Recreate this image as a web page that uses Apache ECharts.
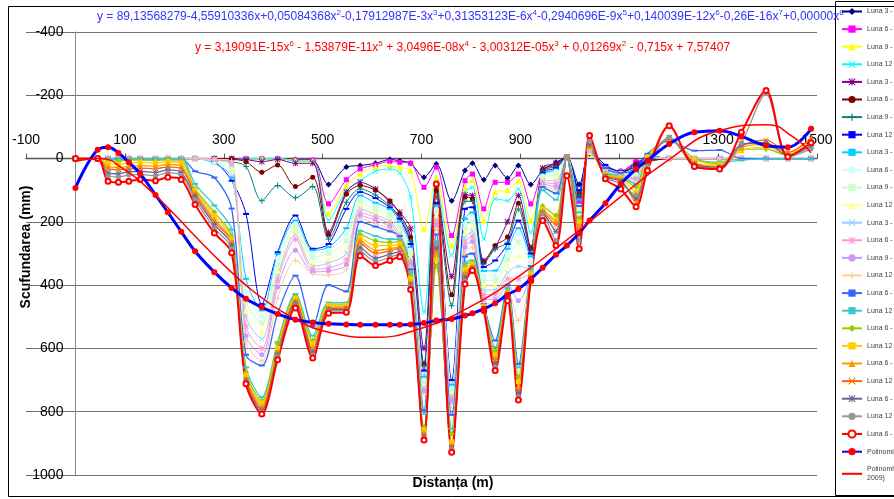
<!DOCTYPE html>
<html><head><meta charset="utf-8">
<script src="https://cdn.jsdelivr.net/npm/echarts@6/dist/echarts.min.js"></script>
<style>html,body{margin:0;padding:0;background:#fff}#c{width:894px;height:499px}</style>
</head><body><div id="c"></div>
<script>
// ---------- DATA ----------
const stations = [0,45,66,87,108,131,162,187,214,242,281,316,345,377,409,445,480,512,548,576,607,636,656,678,705,730,761,788,803,826,849,874,896,921,945,972,994,1019,1040,1072,1103,1134,1157,1201,1252,1303,1347,1397,1441,1488];

const xTicks = [-100,100,300,500,700,900,1100,1300,1500];
const yTicks = [-400,-200,0,200,400,600,800,1000];

const seriesNames = ['Luna 3 - 2001','Luna 6 - 2001','Luna 9 - 2001','Luna 12 - 2001','Luna 3 - 2002','Luna 6 - 2002','Luna 9 - 2002','Luna 12 - 2002','Luna 3 - 2003','Luna 6 - 2003','Luna 9 - 2003','Luna 12 - 2003','Luna 3 - 2004','Luna 6 - 2004','Luna 9 - 2004','Luna 12 - 2004','Luna 6 - 2005','Luna 12 - 2005','Luna 6 - 2006','Luna 12 - 2006','Luna 6 - 2007','Luna 12 - 2007','Luna 6 - 2008','Luna 12 - 2008','Luna 6 - 2009'];
const polyBlueName = 'Polinomială (profil mediu)';
const trendName = 'Polinomială (Luna 6 -\n2009)';

const s01 = [0,0,0,0,0,0,0,0,0,0,0,0,0,0,0,3,5, 82,27,22,15,3,7,15,59,17, 133,38,15,67,22,62,22,82,38,12,-4,82,-15, 25,40,12,5,0,0,0,0,0,0,0];
const s02 = [0,0,0,0,0,0,0,0,0,0,0,0,0,0,0,5,5, 143,67,33,20,9,12,15,91,27, 243,70,49,159,75,75,49,143,43,20,-5,138,-20, 30,40,10,5,0,0,0,0,0,0,0];
const s03 = [0,0,0,0,0,0,0,0,0,0,0,0,0,0,0,5,8, 175,85,48,25,22,28,38,222,60, 275,91,68,196,106,100,70,196,50,30,-5,160,-20, 30,42,20,0,0,0,0,0,0,0,0];
const s04 = [0,0,0,0,0,0,0,0,0,0,0,0,0,2,0,8,10, 194,101,70,40,33,45,122,486,75, 306,106,91,254,127,133,96,233,55,35,-5,170,-20, 32,44,25,-5,0,0,0,0,0,0,0];
const s05 = [0,0,0,0,0,0,0,0,0,0,0,0,3,10,3,15,15, 233,106,75,96,138,170,222,600,90, 373,115,117,322,280,200,117,280,30,15,-5,120,-25, 35,45,15,5,0,0,0,0,0,0,0];
const s06 = [0,0,0,0,0,0,0,0,0,0,0,2,10,43,20,88,59, 241,113,85,100,133,175,249,649,102, 430,122,128,328,275,248,141,285,35,20,-5,110,-25, 38,46,20,10,0,0,0,0,0,0,0];
const s07 = [0,0,0,0,0,0,0,0,0,0,3,10,25,133,85,124,88, 254,138,96,115,149,185,260,655,120, 465,135,135,333,286,264,159,290,40,25,-5,115,-25, 38,48,30,0,0,0,0,0,0,0,0];
const s08 = [0,0,0,0,0,0,0,0,0,0,10,70,175,460,296,180,285, 270,159,106,125,155,190,270,670,140, 700,159,154,343,322,270,196,300,45,30,-5,100,-25, 20,40,25,-10,0,0,0,0,0,0,0];
const s09 = [0,0,0,0,0,0,0,0,0,0,15,60,380,480,301,196,290, 280,220,117,140,160,200,280,690,150, 715,190,170,355,354,285,220,310,50,35,-5,130,-25, 35,44,45,-10,0,0,0,0,0,0,0];
const s10 = [0,0,0,0,0,0,0,0,0,0,10,45,420,500,315,206,300, 290,240,128,150,170,210,290,700,160, 725,205,185,370,370,300,240,320,55,40,-5,150,-25, 38,46,50,-5,0,0,0,0,0,0,0];
const s11 = [0,0,0,0,0,0,0,0,0,0,6,35,450,520,335,216,312, 300,260,138,160,180,220,300,710,170, 735,220,200,385,385,320,264,330,60,50,-5,160,-25, 40,48,55,-5,0,0,0,0,0,0,0];
const s12 = [0,0,0,0,0,0,0,0,0,0,5,28,480,545,355,225,330, 320,285,148,170,190,230,310,718,180, 742,235,215,400,400,340,307,340,65,60,-5,170,-25, 40,50,60,-5,0,0,0,0,0,0,0];
const s13 = [0,0,0,0,0,0,0,0,0,0,4,22,500,570,370,240,340, 330,300,158,178,198,238,318,725,190, 750,250,230,415,415,360,340,350,70,70,-5,190,-25, 42,50,62,-5,0,0,0,0,0,0,0];
const s14 = [0,0,0,0,0,0,0,0,0,0,3,16,530,600,385,255,350, 345,320,170,186,206,246,326,730,200, 756,265,245,430,430,380,380,355,75,80,-5,220,-25, 42,52,65,-5,0,0,0,0,0,0,0];
const s15 = [0,0,0,0,0,0,0,0,0,0,2,12,560,620,406,290,358, 355,335,180,195,215,255,335,735,210, 765,280,262,445,445,400,449,360,80,90,-5,280,-25, 44,52,65,-5,0,0,0,0,0,0,0];
const s16 = [0,0,0,0,0,0,0,0,0,0,2,8,580,640,442,322,364, 368,350,190,205,225,262,345,745,220, 780,300,280,455,459,420,512,365,85,100,-5,230,-25, 44,54,70,-5,0,0,0,0,0,0,0];
const s17 = [0,0,0,0,0,0,0,0,0,40,60,158,620,654,490,370,530, 400,420,200,215,230,245,350,796,240, 810,310,300,460,575,400,649,340,90,110,-5,150,-30, 30,45,40,-15,-55,-25,-27,0,0,0,0];
const s18 = [0,0,0,0,0,0,0,0,0,80,148,224,660,754,580,428,560, 455,455,228,245,255,255,360,806,260, 854,330,322,462,596,410,660,350,100,130,-5,170,-30, 45,55,80,-10,-60,0,12,5,0,0,0];
const s19 = [0,0,5,8,5,5,6,4,6,96,170,246,675,765,585,435,575, 460,460,240,260,265,262,370,849,340, 870,340,328,465,610,420,690,360,150,180,-5,190,-35, 48,58,90,-5,-60,2,15,-30,-30,-10,-40];
const s20 = [0,0,15,18,15,12,14,10,14,100,181,253,685,772,600,442,585, 465,464,250,275,275,270,380,858,320, 895,350,334,468,620,425,705,365,160,194,-5,200,-35, 50,60,107,-5,-62,3,20,-25,-36,-15,-50];
const s21 = [0,0,25,28,25,22,24,18,24,106,192,260,692,780,608,448,598, 470,468,258,290,285,278,388,866,300, 905,360,340,470,630,430,720,370,165,200,-5,210,-40, 52,65,139,10,-64,12,25,-35,-45,-19,-60];
const s22 = [0,0,32,35,32,30,32,26,32,112,200,265,698,788,614,452,605, 474,472,266,300,292,282,394,872,290, 910,368,344,473,638,435,730,374,170,210,-5,220,-40, 54,68,130,15,-65,15,27,-40,-59,-19,-65];
const s23 = [0,0,45,48,42,40,44,36,44,120,208,274,703,795,620,458,612, 478,476,280,315,302,295,400,878,280, 915,376,348,475,648,440,742,378,172,230,-5,240,-45, 56,72,125,20,-66,18,28,-45,-50,-10,-40];
const s24 = [0,0,55,58,52,50,54,45,52,130,220,285,708,800,626,464,620, 482,480,292,325,312,302,406,884,270, 920,386,351,478,658,445,752,382,175,259,-5,260,-54, 58,80,115,25,-67,22,30,-50,-205,-5,-30];
const s25 = [0,0,72,75,72,66,70,59,66,145,235,298,712,807,636,472,630, 489,486,307,338,322,310,414,889,80, 928,396,354,480,670,449,763,386,196,275,54,285,-73, 64,96,152,38,-104,25,33,-83,-215,-6,-50];

const polyBlue = [93,-28,-36,-18,12,48,115,170,231,293,359,409,443,470,491,509,518,522,524,525,525,525,525,524,520,512,507,496,489,475,457,430,412,381,345,304,275,235,196,141,80,33,6,-46,-83,-88,-70,-41,-36,-94];

const trendX = [0,50,100,150,200,250,300,350,400,450,500,600,700,800,900,1000,1100,1200,1300,1400,1450,1488];
const trendY = [8,0,36,99,176,258,336,407,466,512,544,565,536,467,368,250,124,4,-87,-107,-70,-18];

const eqBlueParts = ['y = 89,13568279-4,55910336x+0,05084368x','2','-0,17912987E-3x','3','+0,31353123E-6x','4','-0,2940696E-9x','5','+0,140039E-12x','6','-0,26E-16x','7','+0,00000x','8'];
const eqRedParts = ['y = 3,19091E-15x','6',' - 1,53879E-11x','5',' + 3,0496E-08x','4',' - 3,00312E-05x','3',' + 0,01269x','2',' - 0,715x + 7,57407'];

// ---------- STYLE ----------
const FONT = '"Liberation Sans", Arial, sans-serif';
const SX = 'path://M1,0L5,4L9,0L10,1L6,5L10,9L9,10L5,6L1,10L0,9L4,5L0,1Z';
const SPLUS = 'path://M4.2,0H5.8V4.2H10V5.8H5.8V10H4.2V5.8H0V4.2H4.2Z';
const SSTAR = 'path://M1,0L5,4L9,0L10,1L6,5L10,9L9,10L5,6L1,10L0,9L4,5L0,1Z M4.3,0H5.7V10H4.3Z M0,4.3H10V5.7H0Z';
const styles = [
 ['#000080','diamond',6],['#FF00FF','rect',5],['#FFFF00','triangle',6],['#00FFFF',SX,5],
 ['#800080',SSTAR,6],['#800000','circle',5],['#008080',SPLUS,6],['#0000FF','rect',[6,2]],
 ['#00CCFF','rect',[6,2]],['#CCFFFF','circle',5],['#CCFFCC','rect',5],['#FFFF99','triangle',6],
 ['#99CCFF',SX,5],['#FF99CC',SSTAR,6],['#CC99FF','circle',5],['#FFCC99',SPLUS,6],
 ['#3366FF','rect',[6,2]],['#33CCCC','rect',[6,2]],['#99CC00','diamond',6],['#FFCC00','rect',5],
 ['#FF9900','triangle',6],['#FF6600',SX,5],['#666699',SSTAR,6],['#969696','circle',5],
 ['#FF0000','emptyCircle',5]
];
const valueSets = [s01,s02,s03,s04,s05,s06,s07,s08,s09,s10,s11,s12,s13,s14,s15,s16,s17,s18,s19,s20,s21,s22,s23,s24,s25];

const series = valueSets.map((vals, k) => {
  const [c, sym, size] = styles[k];
  const last = k === valueSets.length - 1;
  return {
    name: seriesNames[k], type: 'line', smooth: 0.3,
    data: stations.map((x, i) => [x, vals[i]]),
    symbol: sym, symbolSize: size, showAllSymbol: true,
    lineStyle: { color: c, width: last ? 2 : (k >= 16 ? 1.3 : 1) },
    itemStyle: { color: c, borderColor: c, borderWidth: last ? 1 : 0 },
    emphasis: { disabled: true }, z: 2
  };
});
series.push({
  name: polyBlueName, type: 'line', smooth: 0.4,
  data: stations.map((x, i) => [x, polyBlue[i]]),
  symbol: 'circle', symbolSize: 6, showAllSymbol: true,
  lineStyle: { color: '#0000FF', width: 3 },
  itemStyle: { color: '#FF0000' }, emphasis: { disabled: true }, z: 3
});
series.push({
  name: trendName, type: 'line', smooth: 0.5,
  data: trendX.map((x, i) => [x, trendY[i]]),
  symbol: 'none', lineStyle: { color: '#FF0000', width: 1.5 },
  itemStyle: { color: '#FF0000' }, emphasis: { disabled: true }, z: 3
});

function eqRich(parts) {
  return parts.map((p, i) => (i % 2 ? '{s|' + p + '}' : '{a|' + p + '}')).join('');
}

// grid geometry: x from -100 (px 26) to 1500 (px 817); y from -400 (px 32) to 1000 (px 475)
const G = { left: 26, top: 32, width: 791, height: 443 };
const xZeroOffset = -(G.width * (0 - xTicks[0]) / (xTicks[xTicks.length - 1] - xTicks[0]));
const yZeroOffset = -(G.height * (0 - yTicks[0]) / (yTicks[yTicks.length - 1] - yTicks[0]));

const chart = echarts.init(document.getElementById('c'), null, { renderer: 'canvas' });
chart.setOption({
  animation: false,
  backgroundColor: '#fff',
  grid: { left: G.left, top: G.top, width: G.width, height: G.height, containLabel: false, outerBoundsMode: 'none' },
  xAxis: {
    type: 'value', min: xTicks[0], max: xTicks[xTicks.length - 1], interval: 200, position: 'top',
    offset: yZeroOffset,
    axisLine: { onZero: false, lineStyle: { color: '#555', width: 1.3 } },
    axisTick: { show: true, length: 5, lineStyle: { color: '#555' } },
    axisLabel: { fontSize: 14, color: '#000', margin: 11, fontFamily: FONT, showMinLabel: true, showMaxLabel: true, hideOverlap: false, formatter: v => String(v) },
    splitLine: { show: false }
  },
  yAxis: {
    type: 'value', inverse: true, min: yTicks[0], max: yTicks[yTicks.length - 1], interval: 200,
    position: 'left', offset: xZeroOffset,
    axisLine: { show: true, onZero: false, lineStyle: { color: '#888', width: 1 } },
    axisTick: { show: false },
    axisLabel: { fontSize: 14, color: '#000', margin: 12, fontFamily: FONT, showMinLabel: true, showMaxLabel: true, hideOverlap: false, formatter: v => String(v) },
    splitLine: { show: true, lineStyle: { color: '#707070', width: 1.2 } }
  },
  legend: {
    orient: 'vertical', left: 841, top: 7, padding: 0, itemGap: 8.6,
    itemWidth: 20, itemHeight: 9, selectedMode: false, align: 'left',
    textStyle: { fontSize: 7, color: '#404040', fontFamily: FONT, lineHeight: 9 },
    data: seriesNames.concat([polyBlueName, { name: trendName, itemStyle: { opacity: 0 } }])
  },
  graphic: [
    { type: 'rect', silent: true, z: 0, shape: { x: 8.5, y: 6.5, width: 1000, height: 490 }, style: { fill: 'none', stroke: '#000', lineWidth: 1 } },
    { type: 'rect', silent: true, z: 0, shape: { x: 835.5, y: 1.5, width: 100, height: 494 }, style: { fill: 'none', stroke: '#000', lineWidth: 1 } },
    { type: 'text', silent: true, left: 97, top: 9, style: { text: eqRich(eqBlueParts), rich: { a: { fontSize: 12, fill: '#3333FF', fontFamily: FONT, lineHeight: 15 }, s: { fontSize: 8, fill: '#3333FF', fontFamily: FONT, verticalAlign: 'top', lineHeight: 9 } } } },
    { type: 'text', silent: true, left: 195, top: 40, style: { text: eqRich(eqRedParts), rich: { a: { fontSize: 12, fill: '#FF0000', fontFamily: FONT, lineHeight: 15 }, s: { fontSize: 8, fill: '#FF0000', fontFamily: FONT, verticalAlign: 'top', lineHeight: 9 } } } },
    { type: 'text', silent: true, x: 26, y: 247, rotation: Math.PI / 2, style: { text: 'Scufundarea (mm)', font: 'bold 14px ' + FONT, fill: '#000', textAlign: 'center', textVerticalAlign: 'middle' } },
    { type: 'text', silent: true, x: 453, y: 483, style: { text: 'Distanța (m)', font: 'bold 14px ' + FONT, fill: '#000', textAlign: 'center', textVerticalAlign: 'middle' } }
  ],
  series: series
});
</script></body></html>
